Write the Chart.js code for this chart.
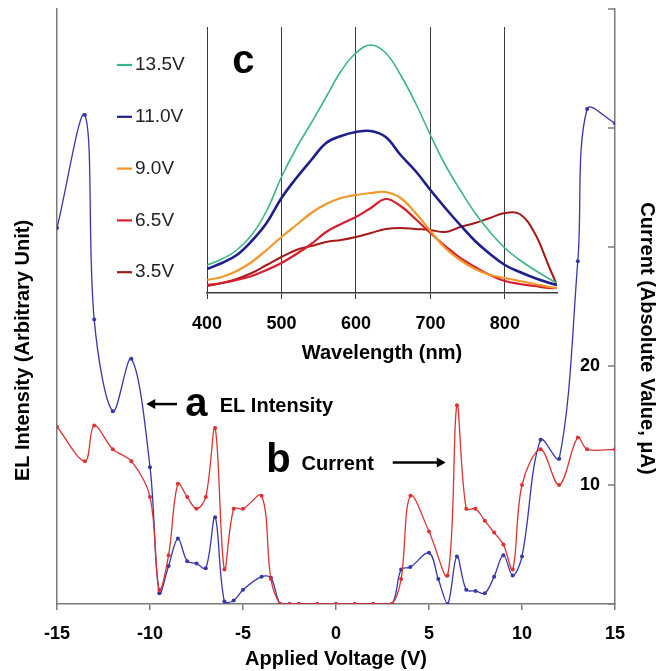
<!DOCTYPE html>
<html><head><meta charset="utf-8">
<script src="https://cdn.jsdelivr.net/npm/chart.js@4.4.1/dist/chart.umd.min.js"></script>
<style>
html,body{margin:0;padding:0;background:#fff;}
#wrap{position:relative;width:657px;height:671px;background:#fff;}
canvas{position:absolute;left:0;top:0;}
</style></head><body>
<div id="wrap">
<canvas id="main" width="657" height="671"></canvas>
<canvas id="inset" width="657" height="671"></canvas>
</div>
<script>
// ---------- main chart data ----------
const curVoltage = [-15,-13.5,-13,-12,-11,-10,-9.5,-9,-8.5,-8,-7.5,-7,-6.5,-6,-5.5,-5,-4,-3.5,-3,-2.5,-2,-1,0,1,2,3,3.5,4,5,6,6.5,7,7.5,8,8.5,9,9.5,10,11,12,13,13.5,15];
const current    = [14.9,12.0,15.0,13.0,12.0,9.0,1.2,4.1,10.1,9.0,8.0,9.0,14.8,2.9,8.0,8.0,9.1,2.1,0,0,0,0,0,0,0,0,2.1,9.1,6.1,2.4,16.7,8.0,8.0,7.0,6.0,5.0,2.9,10.0,13.0,10.0,14.0,13.0,13.0];
const elVoltage  = [-15,-13.5,-13,-12,-11,-10,-9.5,-9,-8.5,-8,-7.5,-7,-6.5,-6,-5.5,-5,-4,-3.5,-3,-2.5,-2,-1,0,1,2,3,3.5,4,5,5.5,6,6.5,7,7.5,8,8.5,9,9.5,10,11,12,13,13.5,15];
const elIntensity= [31.6,41.1,23.9,16.2,20.6,11.5,0.9,3.2,5.5,3.6,3.4,3.0,7.3,0.2,0.3,1.2,2.3,2.2,0,0,0,0,0,0,0,0,2.9,3.1,4.3,2.1,0,4.0,1.2,1.1,0.9,2.3,4.1,2.4,4.0,13.8,12.2,28.8,41.6,40.4];
const voltageTicks = [-15,-10,-5,0,5,10,15];
const currentTickLabels = [10,20];

// ---------- inset spectra data ----------
const wavelength = [400,420,440,460,480,500,520,540,560,580,600,620,640,660,680,700,720,740,760,780,800,820,840,860,870];
const spec135 = [28,34,43,58,82,116,145,170,196,222,240,248,240,218,190,158,128,103,80,61,45,33,23,14,10];
const spec110 = [24,30,38,52,70,95,115,133,150,157,161,162,156,138,122,103,85,68,52,39,28,21,15,10,8];
const spec090 = [13,16,22,31,43,56,68,80,89,95,98,100,101,95,80,62,45,33,24,18,15,12,9,6,5];
const spec065 = [8,10,13,17,23,30,39,49,61,69,76,85,94,87,74,60,47,35,26,18,12,9,7,5,5];
const spec035 = [7,10,14,20,28,36,43,47,51,53,56,60,64,65,64,63,61,66,70,75,80,79,60,25,8];
const specLabels = ['13.5V','11.0V','9.0V','6.5V','3.5V'];
const wavelengthTicks = [400,500,600,700,800];

const FONT = "'Liberation Sans', Arial, Helvetica, sans-serif";
Chart.defaults.font.family = FONT;
const AXIS = '#7a7a7a';
const RED = 'rgb(222,50,50)';
const BLUE = 'rgb(55,55,170)';

function arrow(ctx, x1, y1, x2, y2) {
  const ang = Math.atan2(y2 - y1, x2 - x1);
  const head = 9, half = 5;
  ctx.beginPath();
  ctx.moveTo(x1, y1);
  ctx.lineTo(x2 - Math.cos(ang) * head * 0.8, y2 - Math.sin(ang) * head * 0.8);
  ctx.stroke();
  ctx.beginPath();
  ctx.moveTo(x2, y2);
  ctx.lineTo(x2 - Math.cos(ang) * head + Math.sin(ang) * half, y2 - Math.sin(ang) * head - Math.cos(ang) * half);
  ctx.lineTo(x2 - Math.cos(ang) * head - Math.sin(ang) * half, y2 - Math.sin(ang) * head + Math.cos(ang) * half);
  ctx.closePath();
  ctx.fill();
}

const mainDecor = {
  id: 'mainDecor',
  afterDraw(chart) {
    const {ctx, chartArea: ca, scales: {x, y1}} = chart;
    ctx.save();
    // inward tick marks on the current axis
    ctx.strokeStyle = AXIS; ctx.lineWidth = 1.5;
    y1.ticks.forEach(t => {
      const py = y1.getPixelForValue(t.value);
      ctx.beginPath(); ctx.moveTo(ca.right - 7, py); ctx.lineTo(ca.right, py); ctx.stroke();
    });
    // axis titles
    const mid = (ca.top + ca.bottom) / 2;
    ctx.fillStyle = '#000';
    ctx.font = 'bold 20px ' + FONT;
    ctx.textAlign = 'center'; ctx.textBaseline = 'middle';
    ctx.save(); ctx.translate(23, mid + 44); ctx.rotate(-Math.PI / 2);
    ctx.fillText('EL Intensity (Arbitrary Unit)', 0, 0); ctx.restore();
    ctx.save(); ctx.translate(647, mid + 32); ctx.rotate(Math.PI / 2);
    ctx.fillText('Current (Absolute Value, μA)', 0, 0); ctx.restore();
    // annotations
    ctx.strokeStyle = '#000'; ctx.fillStyle = '#000'; ctx.lineWidth = 2.5;
    const ay = y1.getPixelForValue(16.8);
    arrow(ctx, x.getPixelForValue(-8.55), ay, x.getPixelForValue(-10.2), ay);
    const by = y1.getPixelForValue(11.9);
    arrow(ctx, x.getPixelForValue(3.05), by, x.getPixelForValue(5.9), by);
    ctx.textAlign = 'left'; ctx.textBaseline = 'alphabetic';
    ctx.font = 'bold 40px ' + FONT;
    ctx.fillText('a', x.getPixelForValue(-8.1), y1.getPixelForValue(15.8));
    ctx.fillText('b', x.getPixelForValue(-3.75), y1.getPixelForValue(11.1));
    ctx.font = 'bold 20px ' + FONT;
    ctx.fillText('EL Intensity', x.getPixelForValue(-6.25), y1.getPixelForValue(16.1));
    ctx.fillText('Current', x.getPixelForValue(-1.85), y1.getPixelForValue(11.3));
    ctx.restore();
  }
};

new Chart(document.getElementById('main'), {
  type: 'line',
  data: {
    datasets: [
      { label: 'Current', data: curVoltage.map((v, i) => ({x: v, y: current[i]})), yAxisID: 'y1',
        borderColor: RED, backgroundColor: RED, borderWidth: 1.3, pointRadius: 2, pointBorderWidth: 0, tension: 0.35 },
      { label: 'EL Intensity', data: elVoltage.map((v, i) => ({x: v, y: elIntensity[i]})), yAxisID: 'y',
        borderColor: BLUE, backgroundColor: BLUE, borderWidth: 1.3, pointRadius: 2, pointBorderWidth: 0, tension: 0.35 }
    ]
  },
  options: {
    responsive: false, animation: false,
    layout: {padding: {left: 0, right: 0, top: 9, bottom: 0}},
    plugins: {legend: {display: false}, tooltip: {enabled: false}},
    scales: {
      x: {
        type: 'linear', min: -15, max: 15,
        afterBuildTicks: s => { s.ticks = voltageTicks.map(v => ({value: v})); },
        grid: {drawOnChartArea: false, drawTicks: true, tickLength: 6, color: AXIS, lineWidth: 1.5},
        border: {color: AXIS, width: 1.5},
        ticks: {font: {size: 18, weight: 'bold'}, color: '#000', padding: 13, maxRotation: 0},
        title: {display: true, text: 'Applied Voltage (V)', font: {size: 20, weight: 'bold'}, color: '#000', padding: {top: 0, bottom: 0}},
        afterFit: s => { s.height = 67; }
      },
      y: {
        type: 'linear', position: 'left', min: 0, max: 50,
        ticks: {display: false}, grid: {display: false},
        border: {color: AXIS, width: 1.5},
        afterFit: s => { s.width = 57; }
      },
      y1: {
        type: 'linear', position: 'right', min: 0, max: 50,
        ticks: {stepSize: 10, mirror: true, padding: -15, font: {size: 18, weight: 'bold'}, color: '#000',
          callback: v => currentTickLabels.includes(v) ? String(v) : ''},
        grid: {display: false},
        border: {color: AXIS, width: 1.5},
        afterFit: s => { s.width = 42; }
      }
    }
  },
  plugins: [mainDecor]
});

// ---------- inset ----------
const specColors = ['rgb(60,182,135)', 'rgb(30,30,140)', 'rgb(242,150,40)', 'rgb(215,30,45)', 'rgb(165,25,25)'];
const specWidths = [1.6, 2.6, 2.2, 2.2, 2.0];
const specSeries = [spec135, spec110, spec090, spec065, spec035];

const insetDecor = {
  id: 'insetDecor',
  afterDraw(chart) {
    const {ctx, chartArea: ca, scales: {x, y}} = chart;
    ctx.save();
    ctx.font = '19px ' + FONT;
    ctx.textBaseline = 'middle'; ctx.textAlign = 'left';
    chart.data.datasets.forEach((ds, i) => {
      const ly = ca.top + 38 + i * 51.8;
      ctx.strokeStyle = ds.borderColor; ctx.lineWidth = 2.2;
      ctx.beginPath(); ctx.moveTo(ca.left - 90, ly); ctx.lineTo(ca.left - 75, ly); ctx.stroke();
      ctx.fillStyle = '#222';
      ctx.fillText(ds.label, ca.left - 72, ly);
    });
    ctx.fillStyle = '#000';
    ctx.font = 'bold 40px ' + FONT;
    ctx.textBaseline = 'alphabetic';
    ctx.fillText('c', x.getPixelForValue(434), y.getPixelForValue(220));
    ctx.restore();
  }
};

new Chart(document.getElementById('inset'), {
  type: 'line',
  data: {
    datasets: specSeries.map((s, i) => ({
      label: specLabels[i],
      data: wavelength.map((w, j) => ({x: w, y: s[j]})),
      borderColor: specColors[i], backgroundColor: specColors[i],
      borderWidth: specWidths[i], pointRadius: 0, tension: 0.4
    }))
  },
  options: {
    responsive: false, animation: false,
    layout: {padding: {left: 207, right: 100, top: 27, bottom: 298}},
    plugins: {legend: {display: false}, tooltip: {enabled: false}},
    scales: {
      x: {
        type: 'linear', min: 400, max: 870,
        afterBuildTicks: s => { s.ticks = wavelengthTicks.map(v => ({value: v})); },
        grid: {drawOnChartArea: true, drawTicks: true, tickLength: 6, color: '#3a3a3a', lineWidth: 1},
        border: {color: '#3a3a3a', width: 1.5},
        ticks: {font: {size: 18, weight: 'bold'}, color: '#000', padding: 14, maxRotation: 0},
        title: {display: true, text: 'Wavelength (nm)', font: {size: 20, weight: 'bold'}, color: '#000', padding: {top: 0, bottom: 8}},
        afterFit: s => { s.height = 80; }
      },
      y: {type: 'linear', min: 0, max: 266, display: false}
    }
  },
  plugins: [insetDecor]
});
</script>
</body></html>
